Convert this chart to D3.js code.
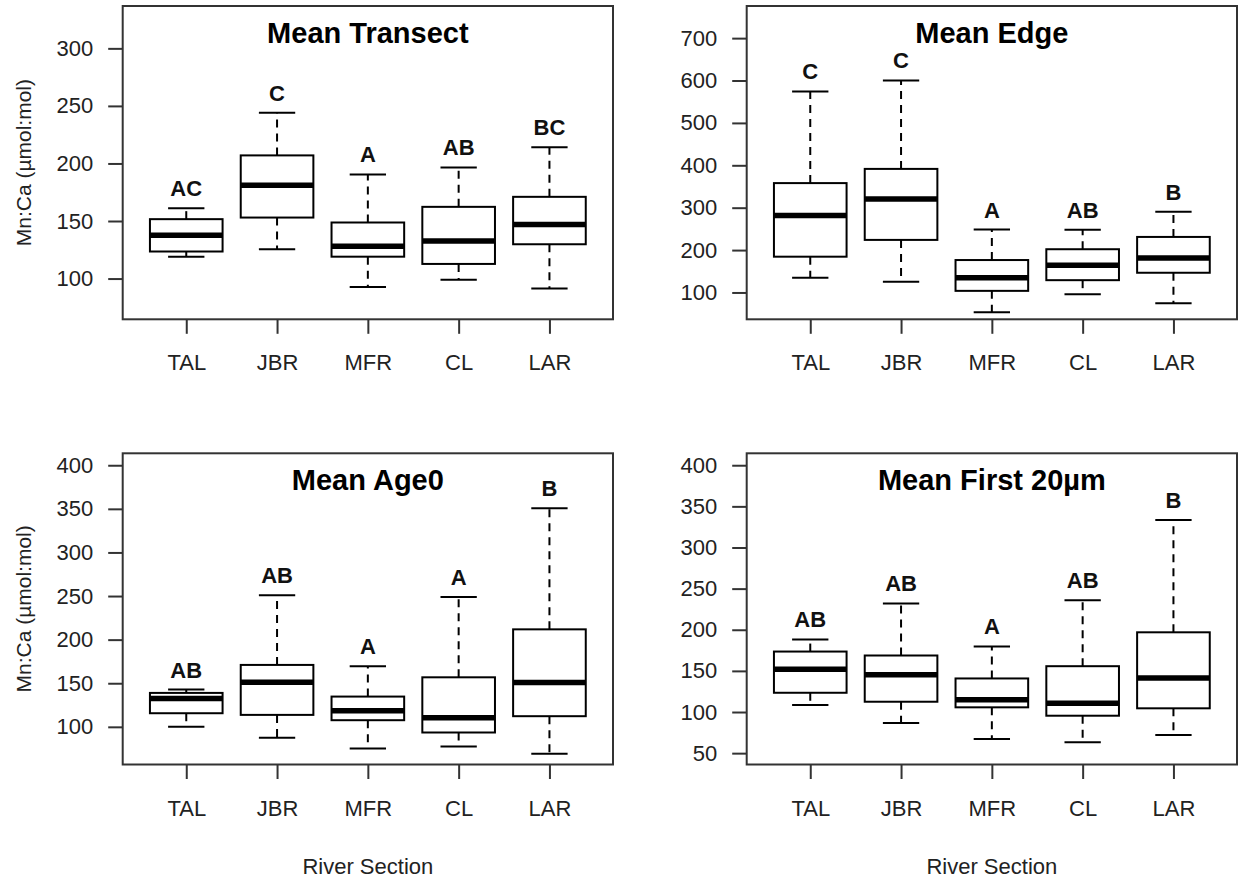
<!DOCTYPE html>
<html>
<head>
<meta charset="utf-8">
<script src="https://cdn.jsdelivr.net/npm/d3@7"></script>
<style>
  html, body { margin: 0; padding: 0; background: #fff; }
  svg { display: block; font-family: "Liberation Sans", Arial, Helvetica, sans-serif; }
</style>
</head>
<body>
<svg id="chart" width="1243" height="884"></svg>
<script>
// River sections (x categories)
const sections = ["TAL", "JBR", "MFR", "CL", "LAR"];

// Box statistics per section: [lower whisker, Q1, median, Q3, upper whisker]
const transectStats = [
  [119, 123.5, 137.7, 151.6, 161],
  [125.5, 153, 181, 207, 244],
  [92.7, 119, 128, 148.7, 190.4],
  [99, 112.7, 132.7, 162.3, 196.5],
  [91.3, 129.8, 147, 171, 214]
];
const edgeStats = [
  [134.6, 184.4, 281.5, 358, 574],
  [125, 224, 320.4, 391.5, 600],
  [53.3, 103.8, 134.6, 176.5, 248.3],
  [96, 129, 164, 202, 248],
  [74.6, 146.5, 181.3, 231, 290.3]
];
const age0Stats = [
  [100, 115.6, 132.4, 138.9, 142.7],
  [87.4, 113.7, 151, 171, 251],
  [75.2, 107.6, 118.3, 134.7, 169.4],
  [77.4, 93.5, 110.3, 156.8, 248.9],
  [69, 112.2, 150.7, 211.8, 350.8]
];
const first20Stats = [
  [108.5, 123.4, 152.1, 173.5, 188.1],
  [86.7, 112.5, 145.2, 168.7, 232],
  [67.3, 105.7, 114.9, 140.8, 179.6],
  [63.3, 95.5, 110.6, 155.7, 236],
  [72.2, 104.5, 141.2, 196.9, 333.4]
];

// Significance group letters
const transectLetters = ["AC", "C", "A", "AB", "BC"];
const edgeLetters = ["C", "C", "A", "AB", "B"];
const age0Letters = ["AB", "AB", "A", "A", "B"];
const first20Letters = ["AB", "AB", "A", "AB", "B"];

// Axis ranges and tick values
const transectRange = [64.6, 336.8];
const edgeRange = [36.7, 775.8];
const age0Range = [56.8, 413.7];
const first20Range = [36.2, 414.5];
const transectTicks = [100, 150, 200, 250, 300];
const edgeTicks = [100, 200, 300, 400, 500, 600, 700];
const age0Ticks = [100, 150, 200, 250, 300, 350, 400];
const first20Ticks = [50, 100, 150, 200, 250, 300, 350, 400];

const titles = ["Mean Transect", "Mean Edge", "Mean Age0", "Mean First 20\u00b5m"];
const yLabel = "Mn:Ca (\u00b5mol:mol)";
const xLabel = "River Section";

const panels = [
  { title: titles[0], stats: transectStats, letters: transectLetters, range: transectRange, ticks: transectTicks, col: 0, row: 0 },
  { title: titles[1], stats: edgeStats, letters: edgeLetters, range: edgeRange, ticks: edgeTicks, col: 1, row: 0 },
  { title: titles[2], stats: age0Stats, letters: age0Letters, range: age0Range, ticks: age0Ticks, col: 0, row: 1 },
  { title: titles[3], stats: first20Stats, letters: first20Letters, range: first20Range, ticks: first20Ticks, col: 1, row: 1 }
];

// Plot-region geometry for the 2x2 grid
const plotLeft = [122.7, 746.7];
const plotWidth = 490.3;
const plotTop = [6, 453.3];
const plotHeight = [313.3, 311.2];

const svg = d3.select("#chart");
const FONT = 22;

panels.forEach(p => {
  const x0 = plotLeft[p.col], x1 = x0 + plotWidth;
  const y0 = plotTop[p.row], y1 = y0 + plotHeight[p.row];

  // Category positions 1..5 on a continuous scale padded like a base-R boxplot
  const x = d3.scaleLinear().domain([0.3, 5.7]).range([x0, x1]);
  const y = d3.scaleLinear().domain(p.range).range([y1, y0]);
  const boxHalf = 0.4, stapleHalf = 0.2;

  const g = svg.append("g");

  // Boxes and whiskers
  p.stats.forEach((s, i) => {
    const cx = i + 1;
    const [lo, q1, med, q3, hi] = s;
    const bg = g.append("g");
    // whiskers (dashed)
    bg.append("line")
      .attr("x1", x(cx)).attr("x2", x(cx)).attr("y1", y(q3)).attr("y2", y(hi))
      .attr("stroke", "#000").attr("stroke-width", 2).attr("stroke-dasharray", "8,6");
    bg.append("line")
      .attr("x1", x(cx)).attr("x2", x(cx)).attr("y1", y(q1)).attr("y2", y(lo))
      .attr("stroke", "#000").attr("stroke-width", 2).attr("stroke-dasharray", "8,6");
    // staples
    [lo, hi].forEach(v => {
      bg.append("line")
        .attr("x1", x(cx - stapleHalf)).attr("x2", x(cx + stapleHalf))
        .attr("y1", y(v)).attr("y2", y(v))
        .attr("stroke", "#000").attr("stroke-width", 2);
    });
    // box
    bg.append("rect")
      .attr("x", x(cx - boxHalf)).attr("y", y(q3))
      .attr("width", x(cx + boxHalf) - x(cx - boxHalf))
      .attr("height", y(q1) - y(q3))
      .attr("fill", "#fff").attr("stroke", "#000").attr("stroke-width", 2);
    // median
    bg.append("line")
      .attr("x1", x(cx - boxHalf)).attr("x2", x(cx + boxHalf))
      .attr("y1", y(med)).attr("y2", y(med))
      .attr("stroke", "#000").attr("stroke-width", 5.5);
    // group letter above the upper whisker
    bg.append("text")
      .attr("x", x(cx)).attr("y", y(hi) - 20)
      .attr("dy", "0.36em")
      .attr("text-anchor", "middle")
      .attr("font-size", FONT).attr("font-weight", "bold").attr("fill", "#111")
      .text(p.letters[i]);
  });

  // Plot frame
  g.append("rect")
    .attr("x", x0).attr("y", y0).attr("width", x1 - x0).attr("height", y1 - y0)
    .attr("fill", "none").attr("stroke", "#333").attr("stroke-width", 2);

  // Title inside the frame
  g.append("text")
    .attr("x", (x0 + x1) / 2).attr("y", y0 + 37)
    .attr("text-anchor", "middle")
    .attr("font-size", 29).attr("font-weight", "bold").attr("fill", "#000")
    .text(p.title);

  // Y axis
  const yAxis = d3.axisLeft(y).tickValues(p.ticks).tickSize(14.5).tickPadding(15).tickFormat(d3.format("d"));
  const ya = g.append("g").attr("transform", `translate(${x0},0)`).call(yAxis);
  ya.select(".domain").remove();
  ya.selectAll(".tick line").attr("stroke", "#333").attr("stroke-width", 2);
  ya.selectAll(".tick text").attr("font-size", FONT).attr("fill", "#222")
    .attr("font-family", "'Liberation Sans', Arial, sans-serif");

  // X axis
  const xAxis = d3.axisBottom(x).tickValues([1, 2, 3, 4, 5]).tickSize(14.5).tickPadding(21)
    .tickFormat(d => sections[d - 1]);
  const xa = g.append("g").attr("transform", `translate(0,${y1})`).call(xAxis);
  xa.select(".domain").remove();
  xa.selectAll(".tick line").attr("stroke", "#333").attr("stroke-width", 2);
  xa.selectAll(".tick text").attr("font-size", FONT).attr("fill", "#222")
    .attr("font-family", "'Liberation Sans', Arial, sans-serif");

  // Axis titles
  if (p.col === 0) {
    g.append("text")
      .attr("transform", `translate(23.5,${(y0 + y1) / 2}) rotate(-90)`)
      .attr("dy", "0.36em")
      .attr("text-anchor", "middle")
      .attr("font-size", 21).attr("fill", "#222")
      .text(yLabel);
  }
  if (p.row === 1) {
    g.append("text")
      .attr("x", (x0 + x1) / 2).attr("y", 866)
      .attr("dy", "0.36em")
      .attr("text-anchor", "middle")
      .attr("font-size", FONT).attr("fill", "#222")
      .text(xLabel);
  }
});
</script>
</body>
</html>
